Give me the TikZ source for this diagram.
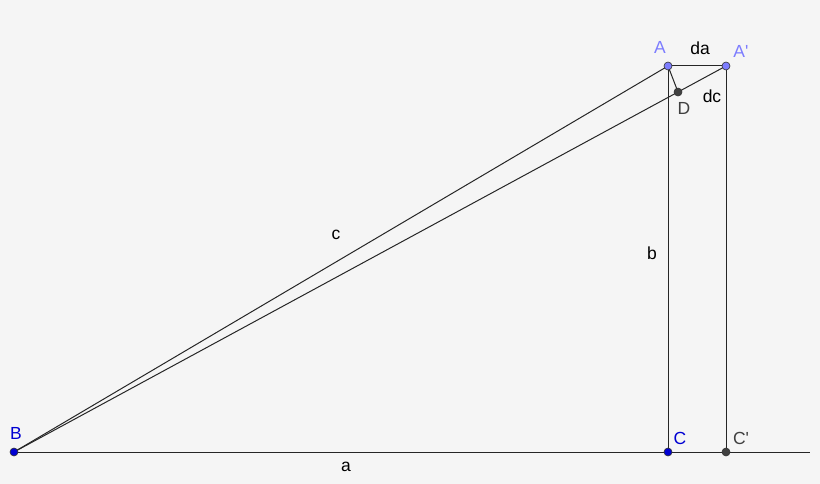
\documentclass[tikz,border=0pt]{standalone}
\usepackage{fontspec}
\setmainfont{Liberation Sans}
\usetikzlibrary{calc}
\definecolor{fond}{RGB}{245,245,245}
\definecolor{bleuclair}{RGB}{125,125,255}
\definecolor{bleu}{RGB}{0,0,210}
\definecolor{gris}{RGB}{64,64,64}
\tikzset{
    Segment/.style={draw=black!85, line width=1pt},
    Point/.style={circle, draw=black!80, line width=0.6pt, minimum size=8pt, inner sep=0pt},
    PointA/.style={Point, fill=bleuclair},
    PointB/.style={Point, fill=bleu},
    PointD/.style={Point, fill=gris},
    Nom/.style={font=\fontsize{17.5}{20}\selectfont, inner sep=0pt}
    }
\begin{document}
\begin{tikzpicture}[x=1pt,y=-1pt]

\fill[fond] (0,0) rectangle (820,484);
\useasboundingbox (0,0) rectangle (820,484);

\coordinate (B) at (14,452);
\coordinate (C) at (668,452);
\coordinate (Cp) at (726,452);
\coordinate (A) at (668,66);
\coordinate (Ap) at (726,66);
\coordinate (Fin) at (810,452);
\coordinate (D) at ($(B)!0.9326!(Ap)$);

\draw[Segment] (B) -- (Fin);
\draw[Segment] (B) -- (A);
\draw[Segment] (B) -- (Ap);
\draw[Segment] (A) -- (C);
\draw[Segment] (Ap) -- (Cp);
\draw[Segment] (A) -- (Ap);
\draw[Segment] (A) -- (D);

\node[PointB] (pB) at (B) {};
\node[PointB] (pC) at (C) {};
\node[PointD] (pCp) at (Cp) {};
\node[PointD] (pD) at (D) {};
\node[PointA] (pA) at (A) {};
\node[PointA] (pAp) at (Ap) {};

\node[Nom, text=bleu] (nB) at (16,433) {B};
\node[Nom, text=bleu] (nC) at (680,438) {C};
\node[Nom, text=gris] (nCp) at (741,438) {C\textquotesingle};
\node[Nom, text=gris] (nD) at (684,108) {D};
\node[Nom, text=bleuclair] (nA) at (660,47) {A};
\node[Nom, text=bleuclair] (nAp) at (741,51) {A\textquotesingle};
\node[Nom] (nda) at (700,48) {da};
\node[Nom] (ndc) at (712,96) {dc};
\node[Nom] (nc) at (336,235) {c};
\node[Nom] (nb) at (652,253) {b};
\node[Nom] (na) at (346,467) {a};

\end{tikzpicture}
\end{document}
